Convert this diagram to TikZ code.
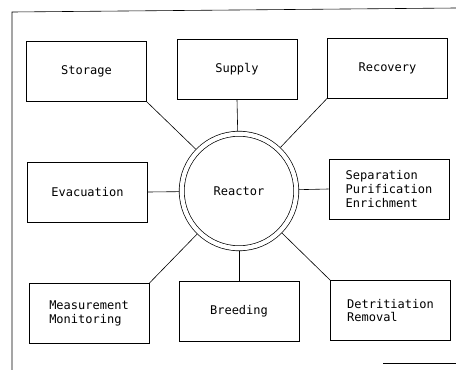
\documentclass[tikz,border=0pt]{standalone}
\usepackage{fontspec}
\setmonofont{DejaVu Sans Mono}
\tikzset{
	unit/.style={draw, line width=0.9pt, minimum width=120pt, minimum height=60pt, align=left, inner sep=2pt},
	link/.style={line width=0.6pt},
}
\begin{document}
\begin{tikzpicture}[x=1pt, y=-1pt, font=\ttfamily\fontsize{12}{13.7}\selectfont]
			\useasboundingbox (0,0) rectangle (456,370);
			\draw [line width=0.6pt] (12,370) -- (12,12) -- (456,8);
			\draw [line width=0.6pt] (383,363) -- (456,363);
			\node [circle, draw, line width=0.7pt, double, double distance=4.3pt, minimum size=114.5pt, outer sep=2.9pt] (reactor) at (239,191) {Reactor};
			\node [unit] (storage) at (86.5,71.5) {Storage};
			\node [unit] (supply) at (237,69) {Supply};
			\node [unit] (recovery) at (387.5,68) {Recovery};
			\node [unit] (evacuation) at (87.5,192) {Evacuation};
			\node [unit] (separation) at (389,189) {Separation\\Purification\\Enrichment};
			\node [unit] (measurement) at (89,313.5) {Measurement\\Monitoring};
			\node [unit] (breeding) at (239,311.5) {Breeding};
			\node [unit] (detritiation) at (390.5,310.5) {Detritiation\\Removal};
			\draw [link] (storage.south east) -- (reactor);
			\draw [link] (supply.south) -- (reactor);
			\draw [link] (recovery.south west) -- (reactor);
			\draw [link] (evacuation.east) -- (reactor);
			\draw [link] (separation.west) -- (reactor);
			\draw [link] (measurement.north east) -- (reactor);
			\draw [link] (breeding.north) -- (reactor);
			\draw [link] (detritiation.north west) -- (reactor);
		\end{tikzpicture}
\end{document}
